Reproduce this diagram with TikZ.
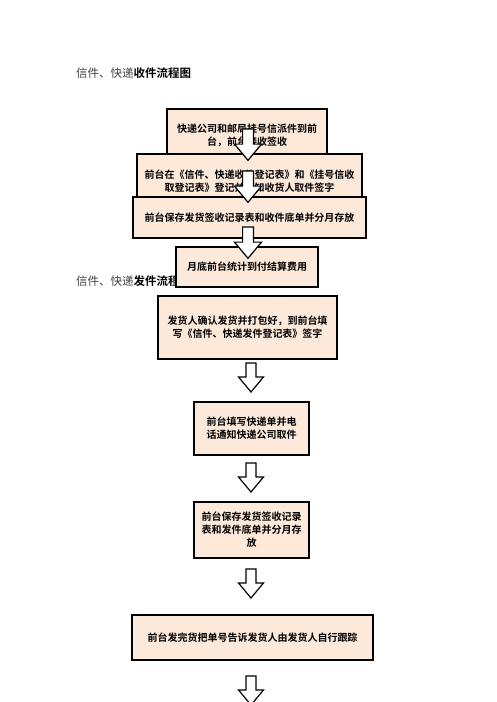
\documentclass[tikz,border=0pt]{standalone}
\usepackage{fontspec}
\setmainfont{Noto Sans CJK SC}[BoldFont={Noto Sans CJK SC Bold}]
\usetikzlibrary{positioning}
\definecolor{boxfill}{RGB}{253,233,217}

\tikzset{
  flowbox/.style={rectangle, draw, line width=1.6pt, fill=boxfill, align=center, inner sep=2pt,
    font=\bfseries\fontsize{10}{13}\selectfont},
  flowtitle/.style={anchor=west, inner sep=0pt, font=\fontsize{11.5}{14}\selectfont},
  downarrow/.pic={\draw[line width=1.2pt, fill=white, line join=miter]
    (-5,0) -- (5,0) -- (5,14) -- (12.5,14) -- (0,29) -- (-12.5,14) -- (-5,14) -- cycle;}
}

\begin{document}
\begin{tikzpicture}[x=1pt, y=-1pt]
        \useasboundingbox (0,0) rectangle (496,702);

        % Receiving flow
        \node[flowtitle] (recvtitle) at (76,73) {{\color{black!75}信件、快递}\textbf{收件流程图}};
        \node[flowbox, minimum width=160pt, minimum height=52pt] (recv1) at (247,135) {快递公司和邮局挂号信派件到前\\台，前台接收签收};
        \node[flowbox, minimum width=225pt, minimum height=54pt] (recv2) at (249.5,181) {前台在《信件、快递收件登记表》和《挂号信收\\取登记表》登记并通知收货人取件签字};
        \node[flowbox, minimum width=233pt, minimum height=41pt] (recv3) at (249.5,217.5) {前台保存发货签收记录表和收件底单并分月存放};
        \node[flowtitle] (sendtitle) at (76,281) {{\color{black!75}信件、快递}\textbf{发件流程图}};
        \node[flowbox, minimum width=142pt, minimum height=40pt] (recv4) at (247,267) {月底前台统计到付结算费用};

        % Sending flow
        \node[flowbox, minimum width=179pt, minimum height=63pt] (send1) at (247.5,327.5) {发货人确认发货并打包好，到前台填\\写《信件、快递发件登记表》签字};
        \node[flowbox, minimum width=115pt, minimum height=53pt] (send2) at (251.5,428.5) {前台填写快递单并电\\话通知快递公司取件};
        \node[flowbox, minimum width=115pt, minimum height=56pt] (send3) at (251.5,530) {前台保存发货签收记录\\表和发件底单并分月存\\放};
        \node[flowbox, minimum width=241pt, minimum height=45pt] (send4) at (252.5,637.5) {前台发完货把单号告诉发货人由发货人自行跟踪};

        % Arrows
        \pic[scale=1.08] (a1) at (248,129) {downarrow};
        \pic[scale=1.08] (a2) at (248,171) {downarrow};
        \pic[scale=1.08] (a3) at (248,227) {downarrow};
        \pic (a4) at (251,363) {downarrow};
        \pic (a5) at (251,463) {downarrow};
        \pic (a6) at (251,569) {downarrow};
        \pic (a7) at (251,676) {downarrow};
    \end{tikzpicture}
\end{document}
